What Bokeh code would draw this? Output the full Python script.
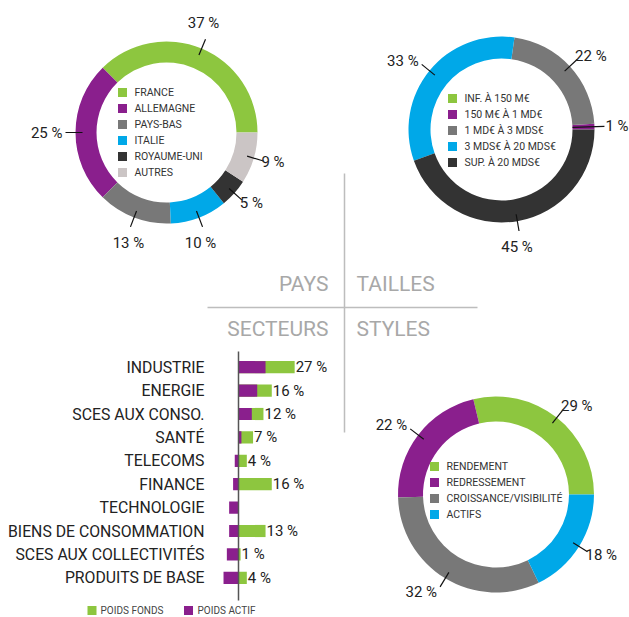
import math
from bokeh.plotting import figure
from bokeh.models import Range1d, ColumnDataSource
from bokeh.embed import file_html
from bokeh.resources import INLINE
from bokeh.core.properties import value

W, H = 629, 617

GREEN = "#8dc63f"
PURPLE = "#8a1f8d"
GRAY = "#787878"
BLUE = "#00a8e8"
DARK = "#333333"
LIGHT = "#cbc5c5"

# ---------------- data ----------------
pays_names = ["FRANCE", "ALLEMAGNE", "PAYS-BAS", "ITALIE", "ROYAUME-UNI", "AUTRES"]
pays_values = [37, 25, 13, 10, 5, 9]
pays_colors = [GREEN, PURPLE, GRAY, BLUE, DARK, LIGHT]

tailles_names = ["INF. À 150 M€", "150 M€ À 1 MD€", "1 MD€ À 3 MDS€", "3 MDS€ À 20 MDS€", "SUP. À 20 MDS€"]
tailles_values = [0, 1, 22, 33, 45]
tailles_colors = [GREEN, PURPLE, GRAY, BLUE, DARK]

styles_names = ["RENDEMENT", "REDRESSEMENT", "CROISSANCE/VISIBILITÉ", "ACTIFS"]
styles_values = [29, 22, 32, 18]
styles_colors = [GREEN, PURPLE, GRAY, BLUE]

secteurs = ["INDUSTRIE", "ENERGIE", "SCES AUX CONSO.", "SANTÉ", "TELECOMS", "FINANCE",
            "TECHNOLOGIE", "BIENS DE CONSOMMATION", "SCES AUX COLLECTIVITÉS", "PRODUITS DE BASE"]
poids_fonds = [27, 16, 12, 7, 4, 16, 0, 13, 1, 4]
poids_actif = [13, 9, 6.4, 1.4, -1.8, -2.6, -4.5, -4.5, -5.6, -7.2]

section_titles = ["PAYS", "TAILLES", "SECTEURS", "STYLES"]

FONT = value("Roboto")


def Y(py):
    return H - py


p = figure(width=W, height=H, x_range=Range1d(0, W), y_range=Range1d(0, H),
           output_backend="svg", toolbar_location=None,
           x_axis_type=None, y_axis_type=None, min_border=0)
p.outline_line_color = None
p.background_fill_color = "white"
p.border_fill_color = "white"


def donut(cx, cy, r_in, r_out, values, colors, names, sq_x, row_y0):
    total = float(sum(values))
    acc = 0.0
    st, en, cols, mids = [], [], [], []
    lab_vals = []
    for v, c in zip(values, colors):
        a0 = 2 * math.pi * acc / total
        acc += v
        a1 = 2 * math.pi * acc / total
        if v > 0:
            st.append(a0); en.append(a1); cols.append(c)
            mids.append((a0 + a1) / 2); lab_vals.append(v)
    src = ColumnDataSource(dict(start=st, end=en, color=cols))
    p.annular_wedge(x=cx, y=Y(cy), inner_radius=r_in, outer_radius=r_out,
                    start_angle="start", end_angle="end", color="color",
                    line_color=None, source=src)
    # leader lines and labels
    x0s, y0s, x1s, y1s = [], [], [], []
    groups = {"left": ([], [], []), "right": ([], [], []), "center": ([], [], [])}
    for m, v in zip(mids, lab_vals):
        c, s = math.cos(m), math.sin(m)
        small = v < 3
        ra, rb = (r_in if small else r_out - 7), r_out + 10
        sx0, sy0 = cx + ra * c, cy - ra * s
        ex, ey = cx + rb * c, cy - rb * s
        x0s.append(sx0); y0s.append(Y(sy0)); x1s.append(ex); y1s.append(Y(ey))
        txt = f"{v} %"
        if abs(c) < 0.45:
            g = groups["center"]
            g[0].append(ex - 2); g[1].append(Y(ey - (16 if s > 0 else -16))); g[2].append(txt)
        elif c > 0:
            g = groups["left"]
            g[0].append(ex + (1 if small else -2)); g[1].append(Y(ey - 5 * s)); g[2].append(txt)
        else:
            g = groups["right"]
            g[0].append(ex - 3); g[1].append(Y(ey - 6 * s)); g[2].append(txt)
    p.segment(x0=x0s, y0=y0s, x1=x1s, y1=y1s, line_color="#111111", line_width=1.2)
    for align, (xs, ys, ts) in groups.items():
        if xs:
            p.text(x=xs, y=ys, text=ts, text_align=align, text_baseline="middle",
                   text_font=FONT, text_font_size="15px", text_color="#222222")
    # legend
    rows = [Y(row_y0 + 16 * i) for i in range(len(names))]
    p.scatter(x=[sq_x] * len(names), y=rows, marker="square", size=9,
              color=colors, line_color=None)
    p.text(x=[sq_x + 12] * len(names), y=rows, text=names, text_align="left",
           text_baseline="middle", text_font=FONT, text_font_size="10.5px",
           text_color="#333333")


donut(166, 132, 70, 91, pays_values, pays_colors, pays_names, 122, 92)
donut(501, 129, 71, 93, tailles_values, tailles_colors, tailles_names, 452, 98)
donut(495.5, 494, 73, 98, styles_values, styles_colors, styles_names, 434, 466)

# ---------------- dividers and section titles ----------------
p.segment(x0=[344, 207], y0=[Y(173), Y(307)], x1=[344, 477], y1=[Y(432), Y(307)],
          line_color="#bdbdbd", line_width=1.5)
p.text(x=[328, 328], y=[Y(283), Y(328)], text=[section_titles[0], section_titles[2]],
       text_align="right", text_baseline="middle", text_font=FONT,
       text_font_size="21px", text_color="#a8a8a8")
p.text(x=[356, 356], y=[Y(283), Y(328)], text=[section_titles[1], section_titles[3]],
       text_align="left", text_baseline="middle", text_font=FONT,
       text_font_size="21px", text_color="#a8a8a8")

# ---------------- sector bars ----------------
X0, PXPCT = 238.0, 2.08
ROW0, ROWH = 366.7, 23.4
p.extra_x_ranges = {"pct": Range1d(-X0 / PXPCT, (W - X0) / PXPCT)}
p.extra_y_ranges = {"row": Range1d(start=(H - ROW0) / ROWH, end=-ROW0 / ROWH)}

rows = list(range(len(secteurs)))
bsrc = ColumnDataSource(dict(row=rows, fonds=poids_fonds, actif=poids_actif,
                             name=secteurs,
                             lab=[f"{v} %" if v > 0 else "" for v in poids_fonds]))
p.hbar(y="row", left=0, right="fonds", height=0.52, color=GREEN, line_color=None,
       source=bsrc, x_range_name="pct", y_range_name="row")
p.hbar(y="row", left=0, right="actif", height=0.52, color=PURPLE, line_color=None,
       source=bsrc, x_range_name="pct", y_range_name="row")
p.segment(x0=0, y0=(351 - ROW0) / ROWH, x1=0, y1=(600 - ROW0) / ROWH,
          line_color="#555555", line_width=1.5, x_range_name="pct", y_range_name="row")
p.text(x="fonds", y="row", text="lab", x_offset=1, text_align="left",
       text_baseline="middle", text_font=FONT, text_font_size="15px",
       text_color="#222222", source=bsrc, x_range_name="pct", y_range_name="row")
p.text(x=204, y="row", text="name", text_align="right", text_baseline="middle",
       text_font=FONT, text_font_size="15.8px", text_color="#222222",
       source=bsrc, y_range_name="row")

# legend for bars
leg_names = ["POIDS FONDS", "POIDS ACTIF"]
p.scatter(x=[91.5, 188], y=[Y(610), Y(610)], marker="square", size=9,
          color=[GREEN, PURPLE], line_color=None)
p.text(x=[100, 197], y=[Y(610), Y(610)], text=leg_names, text_align="left",
       text_baseline="middle", text_font=FONT, text_font_size="10px",
       text_color="#444444")

open("out.html", "w").write(file_html(p, INLINE))
